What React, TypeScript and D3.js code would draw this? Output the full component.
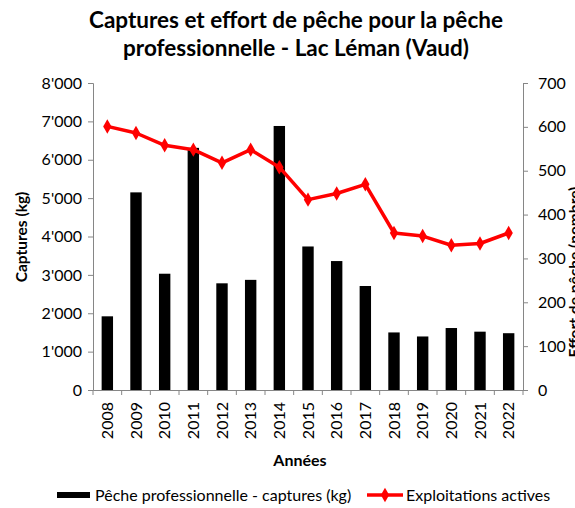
import React, { useEffect, useRef } from "react";
import * as d3 from "d3";

// captures (kg) et exploitations actives
const years = ["2008", "2009", "2010", "2011", "2012", "2013", "2014", "2015", "2016", "2017", "2018", "2019", "2020", "2021", "2022"];
const captures = [1920, 5150, 3030, 6310, 2780, 2870, 6880, 3740, 3360, 2710, 1500, 1395, 1615, 1520, 1480];
const exploitations = [601, 586, 558, 548, 518, 548, 508, 434, 448, 469, 358, 351, 330, 334, 358];
const leftTicks = [0, 1000, 2000, 3000, 4000, 5000, 6000, 7000, 8000];
const rightTicks = [0, 100, 200, 300, 400, 500, 600, 700];

const FONT = "Lato, 'Open Sans', sans-serif";
const AXIS = "#868686";

function App() {
  const ref = useRef<SVGSVGElement>(null);

  useEffect(() => {
    const width = 575;
    const height = 508;
    const margin = { top: 83, right: 52, bottom: 118, left: 93 };
    const innerWidth = width - margin.left - margin.right;
    const innerHeight = height - margin.top - margin.bottom;

    const svg = d3.select(ref.current).attr("width", width).attr("height", height);
    svg.selectAll("*").remove();
    svg.style("font-family", FONT);

    const xBand = d3.scaleBand().domain(years).range([0, innerWidth]);
    const yL = d3.scaleLinear().domain([0, 8000]).range([innerHeight, 0]);
    const yR = d3.scaleLinear().domain([0, 700]).range([innerHeight, 0]);
    const cx = (i: number) => xBand(years[i])! + xBand.bandwidth() / 2;

    const g = svg.append("g").attr("transform", `translate(${margin.left}, ${margin.top})`);

    // barres
    g.selectAll("rect.bar").data(captures).join("rect").attr("class", "bar")
      .attr("x", (d, i) => cx(i) - 5.7)
      .attr("width", 11.4)
      .attr("y", d => yL(d))
      .attr("height", d => innerHeight - yL(d))
      .attr("fill", "#000");

    // axes
    const fmt = (d: number) => d3.format(",")(d).replace(/,/g, "'");
    const left = g.append("g").call(d3.axisLeft(yL).tickValues(leftTicks).tickFormat(d => fmt(+d)).tickSize(5).tickPadding(6));
    const right = g.append("g").attr("transform", `translate(${innerWidth},0)`)
      .call(d3.axisRight(yR).tickValues(rightTicks).tickSize(5).tickPadding(10));
    const bottom = g.append("g").attr("transform", `translate(0,${innerHeight})`)
      .call(d3.axisBottom(xBand).tickSize(0).tickPadding(0));
    [left, right, bottom].forEach(a => {
      a.select(".domain").attr("stroke", AXIS);
      a.selectAll(".tick line").attr("stroke", AXIS);
      a.selectAll("text").attr("fill", "#000").style("font-family", FONT).style("font-size", "16px");
    });
    // graduations entre catégories
    g.append("g").selectAll("line").data(d3.range(years.length + 1)).join("line")
      .attr("x1", i => i * xBand.step()).attr("x2", i => i * xBand.step())
      .attr("y1", innerHeight).attr("y2", innerHeight + 5).attr("stroke", AXIS);
    bottom.selectAll(".tick text")
      .attr("transform", "rotate(-90)")
      .attr("text-anchor", "end")
      .attr("x", -12).attr("y", 0).attr("dy", "0.35em");

    // ligne
    const line = d3.line<number>().x((d, i) => cx(i)).y(d => yR(d));
    g.append("path").datum(exploitations).attr("d", line).attr("fill", "none")
      .attr("stroke", "#ff0000").attr("stroke-width", 3.5).attr("stroke-linejoin", "round");
    const diamond = d3.symbol().type(d3.symbolDiamond).size(60);
    g.selectAll("path.mark").data(exploitations).join("path").attr("class", "mark")
      .attr("d", diamond)
      .attr("transform", (d, i) => `translate(${cx(i)},${yR(d)})`)
      .attr("fill", "#ff0000");

    // titres
    const title = svg.append("text").attr("text-anchor", "middle")
      .style("font-size", "22.5px").style("font-weight", "bold");
    title.append("tspan").attr("x", 296).attr("y", 28).text("Captures et effort de pêche pour la pêche");
    title.append("tspan").attr("x", 296).attr("y", 56).text("professionnelle - Lac Léman (Vaud)");

    svg.append("text").attr("transform", "rotate(-90)").attr("x", -237).attr("y", 27)
      .attr("text-anchor", "middle").style("font-size", "15.5px").style("font-weight", "bold").text("Captures (kg)");
    svg.append("text").attr("transform", "rotate(-90)").attr("x", -272).attr("y", 580)
      .attr("text-anchor", "middle").style("font-size", "15.5px").style("font-weight", "bold").text("Effort de pêche (nombre)");
    svg.append("text").attr("x", 300).attr("y", 466).attr("text-anchor", "middle")
      .style("font-size", "16px").style("font-weight", "bold").text("Années");

    // légende
    const lg = svg.append("g");
    lg.append("rect").attr("x", 57).attr("y", 492).attr("width", 33).attr("height", 6).attr("fill", "#000");
    lg.append("text").attr("x", 95).attr("y", 500.5).style("font-size", "16px").text("Pêche professionnelle - captures (kg)");
    lg.append("line").attr("x1", 367).attr("x2", 403).attr("y1", 495).attr("y2", 495)
      .attr("stroke", "#ff0000").attr("stroke-width", 3.5);
    lg.append("path").attr("d", diamond).attr("transform", "translate(385,495)").attr("fill", "#ff0000");
    lg.append("text").attr("x", 406).attr("y", 500.5).style("font-size", "16px").text("Exploitations actives");
  }, []);

  return <svg ref={ref} style={{ position: "absolute", left: 0, top: 0 }}></svg>;
}

export default App;
